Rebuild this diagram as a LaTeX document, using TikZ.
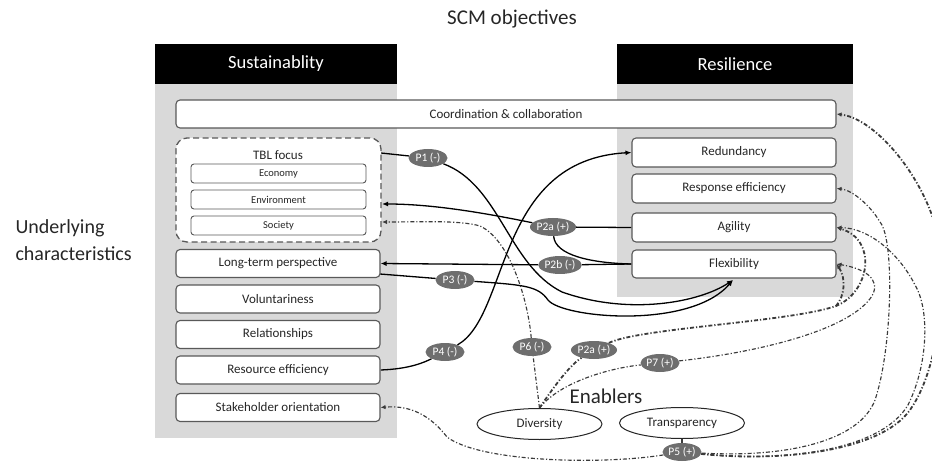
\documentclass[tikz,border=0pt]{standalone}
\usepackage{fontspec}
\setmainfont{Carlito}
\usetikzlibrary{shapes.geometric,arrows.meta,calc}
\definecolor{panelgray}{HTML}{D9D9D9}
\definecolor{boxline}{HTML}{595959}
\definecolor{labfill}{HTML}{6E6E6E}
\definecolor{dashline}{HTML}{3A3A3A}
\definecolor{txt}{HTML}{262626}
\pgfdeclarelayer{bg}
\pgfdeclarelayer{conn}
\pgfsetlayers{bg,conn,main}
\begin{document}
\begin{tikzpicture}[x=1pt,y=-1pt,
 box/.style={draw=boxline, line width=1.1pt, rounded corners=4pt, fill=white, inner sep=0pt, text=txt, font=\fontsize{13}{15}\selectfont},
 smallbox/.style={box, line width=0.9pt, rounded corners=3pt, font=\fontsize{10.5}{12}\selectfont},
 head/.style={fill=black, text=white, inner sep=0pt, font=\fontsize{18.5}{22}\selectfont},
 plab/.style={ellipse, fill=labfill, text=white, inner sep=0pt, minimum width=39pt, minimum height=18pt, font=\fontsize{11.5}{13}\selectfont},
 enab/.style={ellipse, draw=black!85, line width=1pt, fill=white, inner sep=0pt, minimum width=125pt, minimum height=31pt, text=txt, font=\fontsize{13}{15}\selectfont},
 solidline/.style={draw=black, line width=1.3pt},
 solidarrow/.style={solidline, -{Latex[length=6pt,width=5pt]}},
 dd/.style={draw=dashline, line width=1.15pt, dash pattern=on 4pt off 2pt on 1.2pt off 2pt},
 ddthick/.style={dd, line width=1.8pt},
 ddarrow/.style={dd, -{Latex[length=5pt,width=4.5pt]}},
 ddthickarrow/.style={ddthick, -{Latex[length=5pt,width=4.5pt]}},
]
\useasboundingbox (0,0) rectangle (932,465);

\begin{pgfonlayer}{bg}
\fill[panelgray] (155,84) rectangle (397,438);
\fill[panelgray] (617,84) rectangle (853,297);
\end{pgfonlayer}

% titles
\node[font=\fontsize{21}{24}\selectfont, text=txt] (title) at (512,19) {SCM objectives};
\node[head, minimum width=242pt, minimum height=40pt] (sushead) at (276,64) {Sustainablity};
\node[head, minimum width=236pt, minimum height=40pt] (reshead) at (735,64) {Resilience};
\node[anchor=west, align=left, text=txt, font=\fontsize{20}{27}\selectfont] (under) at (12,240) {Underlying\\characteristics};

% sustainability column
\node[box, minimum width=660pt, minimum height=28pt] (coord) at (506,114) {Coordination \& collaboration};
\node[draw=boxline, line width=1.3pt, dash pattern=on 6pt off 3.5pt, rounded corners=11pt, fill=white, minimum width=205pt, minimum height=104pt] (tbl) at (278.5,190) {};
\node[text=txt, font=\fontsize{13}{15}\selectfont] (tbltitle) at (278,155) {TBL focus};
\node[smallbox, minimum width=175pt, minimum height=19pt] (econ) at (278.5,173.5) {Economy};
\node[smallbox, minimum width=175pt, minimum height=19pt] (envi) at (278.5,199.5) {Environment};
\node[smallbox, minimum width=175pt, minimum height=19pt] (soc) at (278.5,225.5) {Society};
\node[box, minimum width=204pt, minimum height=28pt] (lt) at (278,263.5) {Long-term perspective};
\node[box, minimum width=204pt, minimum height=28pt] (vol) at (278,299) {Voluntariness};
\node[box, minimum width=204pt, minimum height=28pt] (rel) at (278,334.5) {Relationships};
\node[box, minimum width=204pt, minimum height=28pt] (reseff) at (278,370) {Resource efficiency};
\node[box, minimum width=204pt, minimum height=28pt] (stake) at (278,407.5) {Stakeholder orientation};

% resilience column
\node[box, minimum width=204pt, minimum height=29pt] (red) at (734,152.5) {Redundancy};
\node[box, minimum width=204pt, minimum height=29pt] (resp) at (734,188.5) {Response efficiency};
\node[box, minimum width=204pt, minimum height=29pt] (agil) at (734,227.5) {Agility};
\node[box, minimum width=204pt, minimum height=28pt] (flex) at (734,264) {Flexibility};

% enablers
\node[text=txt, font=\fontsize{21}{24}\selectfont] (enabl) at (606,396) {Enablers};
\node[enab] (div) at (539.5,424) {Diversity};
\node[enab] (trans) at (682,423) {Transparency};

% proposition labels
\node[plab] (p1) at (428,158) {P1 (-)};
\node[plab, minimum width=42pt] (p2a) at (553,227) {P2a (+)};
\node[plab, minimum width=42pt] (p2b) at (560,265) {P2b (-)};
\node[plab] (p3) at (455,280) {P3 (-)};
\node[plab] (p4) at (445,352) {P4 (-)};
\node[plab] (p6) at (532,347) {P6 (-)};
\node[plab, minimum width=42pt] (p2aa) at (594,350) {P2a (+)};
\node[plab] (p7) at (660,363) {P7 (+)};
\node[plab] (p5) at (682,452) {P5 (+)};

% connector end points
\coordinate (tblP1) at (381,153);
\coordinate (tblEnv) at (382,204);
\coordinate (tblSoc) at (382,222);
\coordinate (ltOut) at (380,274);
\coordinate (flexS) at (733,280);
\coordinate (jn) at (836,306);

\begin{pgfonlayer}{conn}
% P1
\draw[solidline] (tblP1) -- (p1);
\draw[solidarrow] (p1) .. controls (500,185) and (508,265) .. (562,292) .. controls (630,316) and (700,302) .. (flexS);
% P3
\draw[solidline] (ltOut) -- (p3);
\draw[solidarrow] (p3) .. controls (525,285) and (538,286) .. (548,300) .. controls (562,318) and (690,330) .. (flexS);
% P4
\draw[solidline] (reseff.east) .. controls (410,369) and (425,362) .. (p4);
\draw[solidarrow] (p4) .. controls (510,315) and (495,160) .. (red.west);
% P2a (upper)
\draw[solidline] (agil.west) -- (p2a);
\draw[solidarrow] (p2a) .. controls (480,212) and (430,204) .. (tblEnv);
\draw[solidline] (p2a) .. controls (555,255) and (590,263) .. (flex.west);
% P2b
\draw[solidline] (flex.west) -- (p2b);
\draw[solidarrow] (p2b) -- (lt.east);
% P6
\draw[dd] (div.north) -- (p6);
\draw[ddarrow] (p6) .. controls (528,300) and (510,240) .. (480,226) .. controls (460,220) and (420,222) .. (tblSoc);
% P2a (lower)
\draw[ddthick] (div.north) .. controls (555,385) and (570,365) .. (p2aa);
\draw[ddthickarrow] (p2aa) .. controls (640,328) and (790,322) .. (jn) .. controls (870,292) and (878,240) .. (agil.east);
\draw[ddthickarrow] (jn) .. controls (845,296) and (846,278) .. (flex.east);
% P7
\draw[dd] (div.north) .. controls (560,382) and (610,368) .. (p7);
\draw[ddarrow] (p7) .. controls (760,352) and (850,330) .. (872,296) .. controls (882,278) and (862,268) .. (flex.east);
% P5
\draw[dd] (trans.south) -- (p5);
\draw[ddarrow] (p5) .. controls (600,465) and (480,462) .. (447,437) .. controls (430,415) and (410,405) .. (stake.east);
\draw[ddthickarrow] (p5) .. controls (780,462) and (880,452) .. (910,410) .. controls (945,360) and (948,255) .. (930,210) .. controls (910,160) and (870,118) .. (coord.east);
\draw[ddarrow] (p5) .. controls (790,458) and (860,440) .. (875,400) .. controls (892,350) and (895,240) .. (880,222) .. controls (870,205) and (852,190) .. (resp.east);
\draw[ddarrow] (p5) .. controls (780,462) and (880,452) .. (908,405) .. controls (928,365) and (930,310) .. (915,285) .. controls (900,255) and (870,228) .. (agil.east);
\end{pgfonlayer}
\end{tikzpicture}
\end{document}
